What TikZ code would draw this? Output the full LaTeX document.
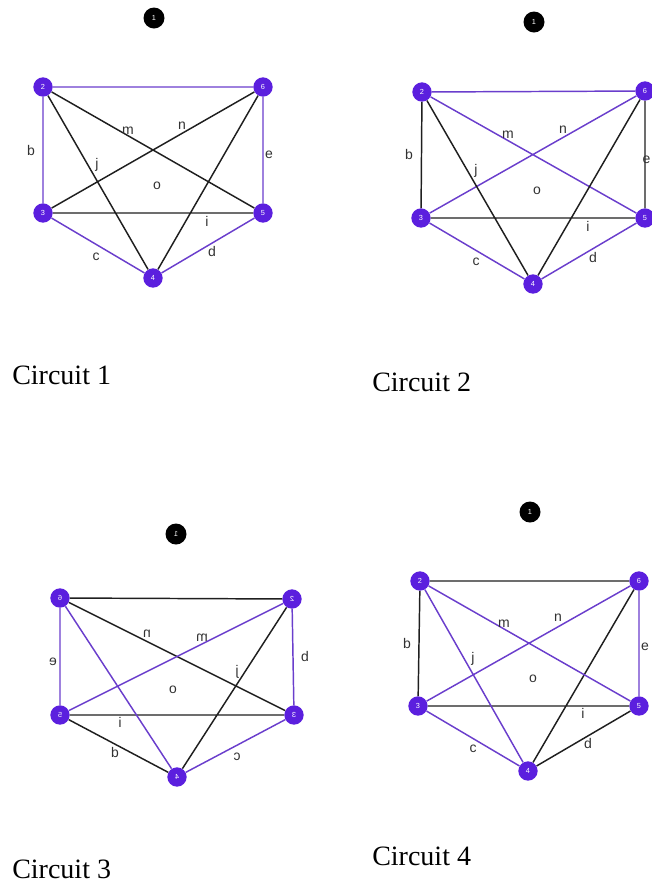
\documentclass[tikz,border=0pt]{standalone}
\usepackage{fontspec}
\setmainfont{Liberation Serif}
\setsansfont{Liberation Sans}
\usepackage{tikz}
\definecolor{vnode}{RGB}{91,31,222}
\definecolor{vedge}{RGB}{106,62,204}
\definecolor{elabel}{RGB}{50,50,50}

\begin{document}
\begin{tikzpicture}[x=0.75pt,y=-0.75pt,
        vert/.style={circle,fill=vnode,minimum size=14.5pt,inner sep=0pt,text=white,font=\sffamily\fontsize{5.5}{5.5}\selectfont},
        onenode/.style={circle,fill=black,minimum size=15.75pt,inner sep=0pt,text=white,font=\sffamily\fontsize{5.5}{5.5}\selectfont},
        pe/.style={draw=vedge,line width=1.1pt},
        be/.style={draw=black!88,line width=1.1pt},
        lab/.style={text=elabel,font=\sffamily\fontsize{10.5}{10.5}\selectfont,inner sep=0pt},
        ctitle/.style={anchor=base west,font=\fontsize{21}{21}\selectfont,inner sep=0pt},
        mirrored/.style={xscale=-1}]
        \useasboundingbox (0,0) rectangle (651,894);

        % circuit 1
        \node (a1) [onenode] at (154,18) {1};
        \node (a2) [vert] at (43,87) {2};
        \node (a6) [vert] at (263,87) {6};
        \node (a3) [vert] at (43,213) {3};
        \node (a5) [vert] at (263,213) {5};
        \node (a4) [vert] at (153,278) {4};
        \draw[pe] (a2) -- (a6) (a2) -- (a3) (a6) -- (a5) (a3) -- (a4) (a4) -- (a5);
        \draw[be] (a2) -- (a5) (a2) -- (a4) (a3) -- (a6) (a6) -- (a4) (a3) -- (a5);
        \node (am) [lab] at (128,131) {m};
        \node (an) [lab] at (182,126) {n};
        \node (ab) [lab] at (31,150) {b};
        \node (ae) [lab] at (269,155) {e};
        \node (aj) [lab] at (97,165) {j};
        \node (ao) [lab] at (157,186) {o};
        \node (ai) [lab] at (207,221) {i};
        \node (ac) [lab] at (96,257) {c};
        \node (ad) [lab] at (212,251) {d};
        \node (acap) [ctitle] at (12,384) {Circuit 1};

        % circuit 2
        \node (b1) [onenode] at (534,22) {1};
        \node (b2) [vert] at (422,92) {2};
        \node (b6) [vert] at (645,91) {6};
        \node (b3) [vert] at (421,218) {3};
        \node (b5) [vert] at (645,218) {5};
        \node (b4) [vert] at (533,284) {4};
        \draw[pe] (b2) -- (b6) (b2) -- (b5) (b3) -- (b6) (b3) -- (b4) (b4) -- (b5);
        \draw[be] (b2) -- (b3) (b6) -- (b5) (b2) -- (b4) (b6) -- (b4) (b3) -- (b5);
        \node (bm) [lab] at (508,135) {m};
        \node (bn) [lab] at (563,130) {n};
        \node (bb) [lab] at (409,154) {b};
        \node (be) [lab] at (646.5,160) {e};
        \node (bj) [lab] at (476,171) {j};
        \node (bo) [lab] at (537,191) {o};
        \node (bi) [lab] at (588,226) {i};
        \node (bc) [lab] at (476,262) {c};
        \node (bd) [lab] at (593,257) {d};
        \node (bcap) [ctitle] at (372,391) {Circuit 2};

        % circuit 3 (mirror image)
        \node (c1) [onenode,mirrored] at (176,534) {1};
        \node (c6) [vert,mirrored] at (60,598) {6};
        \node (c2) [vert,mirrored] at (292,599) {2};
        \node (c5) [vert,mirrored] at (60,715) {5};
        \node (c3) [vert,mirrored] at (294,715) {3};
        \node (c4) [vert,mirrored] at (177,777) {4};
        \draw[be] (c6) -- (c2) (c6) -- (c3) (c2) -- (c4) (c5) -- (c3) (c5) -- (c4);
        \draw[pe] (c6) -- (c5) (c2) -- (c3) (c2) -- (c5) (c6) -- (c4) (c3) -- (c4);
        \node (cn) [lab,mirrored] at (147,634) {n};
        \node (cm) [lab,mirrored] at (202,638) {m};
        \node (ce) [lab,mirrored] at (53,662) {e};
        \node (cb) [lab,mirrored] at (305,656) {b};
        \node (cj) [lab,mirrored] at (237,672) {j};
        \node (co) [lab,mirrored] at (173,690) {o};
        \node (ci) [lab,mirrored] at (120,722) {i};
        \node (cd) [lab,mirrored] at (115,752) {d};
        \node (cc) [lab,mirrored] at (237,757) {c};
        \node (ccap) [ctitle] at (12,878) {Circuit 3};

        % circuit 4
        \node (d1) [onenode] at (530,512) {1};
        \node (d2) [vert] at (420,581) {2};
        \node (d6) [vert] at (639,581) {6};
        \node (d3) [vert] at (418,706) {3};
        \node (d5) [vert] at (639,706) {5};
        \node (d4) [vert] at (528,771) {4};
        \draw[be] (d2) -- (d6) (d2) -- (d3) (d6) -- (d4) (d3) -- (d5) (d4) -- (d5);
        \draw[pe] (d6) -- (d5) (d2) -- (d5) (d3) -- (d6) (d2) -- (d4) (d3) -- (d4);
        \node (dm) [lab] at (504,624) {m};
        \node (dn) [lab] at (558,618) {n};
        \node (db) [lab] at (407,643) {b};
        \node (de) [lab] at (645,647) {e};
        \node (dj) [lab] at (473,659) {j};
        \node (do) [lab] at (533,679) {o};
        \node (di) [lab] at (583,713) {i};
        \node (dc) [lab] at (473,749) {c};
        \node (dd) [lab] at (588,743) {d};
        \node (dcap) [ctitle] at (372,865) {Circuit 4};
    \end{tikzpicture}
\end{document}
